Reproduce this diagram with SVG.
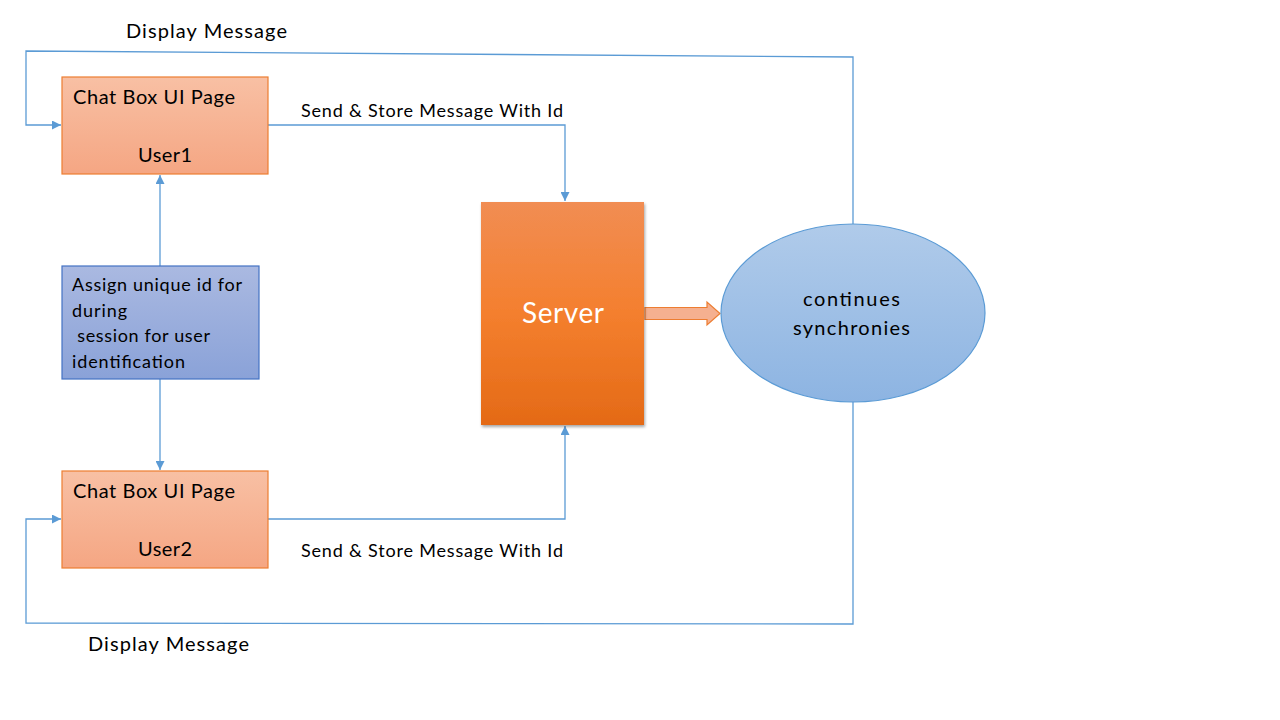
<svg xmlns="http://www.w3.org/2000/svg" width="1280" height="720" viewBox="0 0 1280 720">
<defs>
<linearGradient id="gOr" x1="0" y1="0" x2="0" y2="1"><stop offset="0" stop-color="#f8c0a4"/><stop offset="1" stop-color="#f5a683"/></linearGradient>
<linearGradient id="gBl" x1="0" y1="0" x2="0" y2="1"><stop offset="0" stop-color="#aab9e1"/><stop offset="1" stop-color="#8aa2d8"/></linearGradient>
<linearGradient id="gSv" x1="0" y1="0" x2="0" y2="1"><stop offset="0" stop-color="#f18d53"/><stop offset="0.5" stop-color="#f47f2e"/><stop offset="1" stop-color="#e46a16"/></linearGradient>
<linearGradient id="gEl" x1="0" y1="0" x2="0" y2="1"><stop offset="0" stop-color="#b0cbea"/><stop offset="1" stop-color="#8db4e2"/></linearGradient>
<filter id="sh" x="-10%" y="-10%" width="130%" height="130%"><feDropShadow dx="1" dy="2" stdDeviation="1.5" flood-color="#000" flood-opacity="0.35"/></filter>
<marker id="ah" viewBox="0 0 10 10" refX="10" refY="5" markerWidth="9" markerHeight="9" markerUnits="userSpaceOnUse" orient="auto"><path d="M0,0 L10,5 L0,10 z" fill="#5b9bd5"/></marker>
</defs>
<style>
text{font-family:Lato,"Open Sans","Liberation Sans",sans-serif;fill:#000}
.c{fill:none;stroke:#5b9bd5;stroke-width:1.3}
.ob{fill:url(#gOr);stroke:#ed7d31;stroke-width:1.2}
.t20{font-size:20px}
.t18{font-size:18px}
</style>
<rect width="1280" height="720" fill="#fff"/>
<g id="connectors">
<path class="c" d="M853,224 V57 L26,51 V125 H61" marker-end="url(#ah)"/>
<path class="c" d="M268,125 H565 V201" marker-end="url(#ah)"/>
<path class="c" d="M160,266 V175" marker-end="url(#ah)"/>
<path class="c" d="M160,379 V470" marker-end="url(#ah)"/>
<path class="c" d="M268,519 H565 V426" marker-end="url(#ah)"/>
<path class="c" d="M853,402 V624 L26,623 V519 H61" marker-end="url(#ah)"/>
<path d="M645,307.5 H707 V302 L720,313.5 L707,325 V319.5 H645 z" fill="#f5b090" stroke="#ed7d31" stroke-width="1.2"/>
<text class="t20" x="126" y="38" textLength="161" lengthAdjust="spacing">Display Message</text>
<text class="t18" x="301" y="117" textLength="262" lengthAdjust="spacing">Send &amp; Store Message With Id</text>
<text class="t18" x="301" y="557" textLength="262" lengthAdjust="spacing">Send &amp; Store Message With Id</text>
<text class="t20" x="88" y="651" textLength="161" lengthAdjust="spacing">Display Message</text>
</g>
<g id="user1">
<rect class="ob" x="62" y="77" width="206" height="97"/>
<text class="t20" x="73" y="104" textLength="162" lengthAdjust="spacing">Chat Box UI Page</text>
<text class="t20" x="138" y="162" textLength="54" lengthAdjust="spacing">User1</text>
</g>
<g id="assign">
<rect x="62" y="266" width="197" height="113" fill="url(#gBl)" stroke="#4472c4" stroke-width="1.2"/>
<text class="t18" x="72" y="291" textLength="170" lengthAdjust="spacing">Assign unique id for</text>
<text class="t18" x="72" y="317" textLength="55" lengthAdjust="spacing">during</text>
<text class="t18" x="72" y="342" xml:space="preserve" textLength="138" lengthAdjust="spacing"> session for user</text>
<text class="t18" x="72" y="368" textLength="113" lengthAdjust="spacing">identification</text>
</g>
<g id="user2">
<rect class="ob" x="62" y="471" width="206" height="97"/>
<text class="t20" x="73" y="498" textLength="162" lengthAdjust="spacing">Chat Box UI Page</text>
<text class="t20" x="138" y="556" textLength="54" lengthAdjust="spacing">User2</text>
</g>
<g id="server">
<rect x="481" y="202" width="163" height="223" fill="url(#gSv)" filter="url(#sh)"/>
<text x="522" y="323" textLength="82" lengthAdjust="spacing" style="font-size:28px;fill:#fff">Server</text>
</g>
<g id="sync">
<ellipse cx="853" cy="313" rx="132" ry="89" fill="url(#gEl)" stroke="#5b9bd5" stroke-width="1.2"/>
<text class="t20" x="803" y="306" textLength="97" lengthAdjust="spacing">continues</text>
<text class="t20" x="793" y="335" textLength="117" lengthAdjust="spacing">synchronies</text>
</g>
</svg>
